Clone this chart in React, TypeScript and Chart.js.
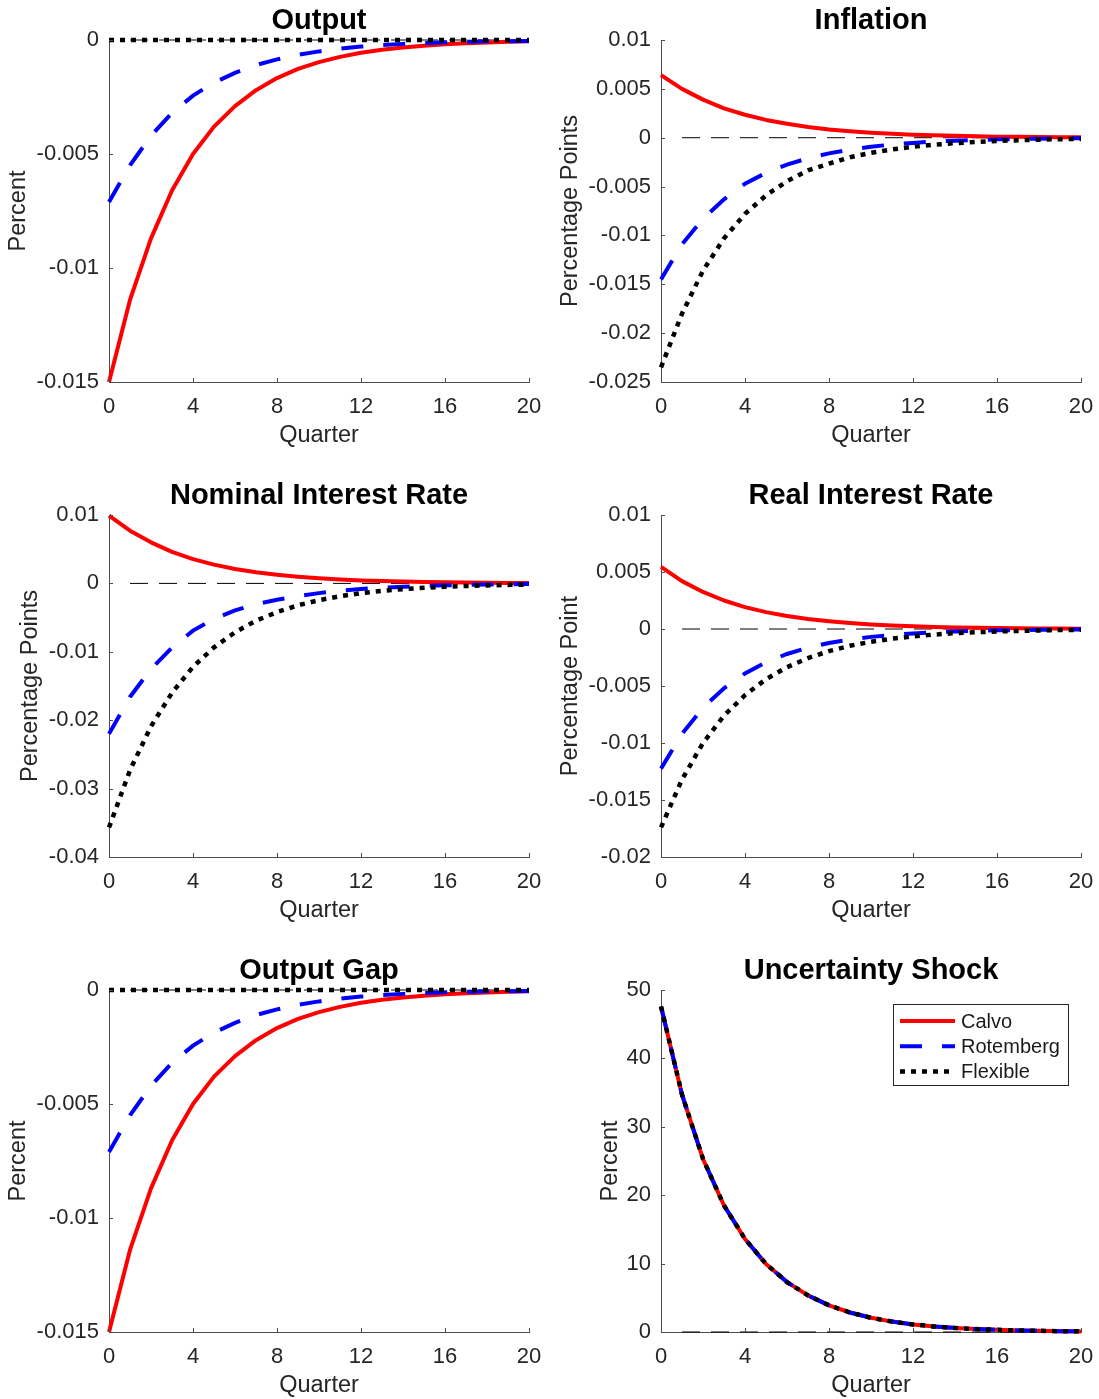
import React, { useEffect, useRef } from "react";
import { Chart, registerables } from "chart.js";

Chart.register(...registerables);
Chart.defaults.font.family = "'Liberation Sans', Arial, Helvetica, sans-serif";

// ---------------- data ----------------
const quarters = [0, 1, 2, 3, 4, 5, 6, 7, 8, 9, 10, 11, 12, 13, 14, 15, 16, 17, 18, 19, 20];
const zeroQuarters = [1, 2, 3, 4, 5, 6, 7, 8, 9, 10, 11, 12, 13, 14, 15, 16, 17, 18, 19, 20];
const xTicks = [0, 4, 8, 12, 16, 20];

const outputTicks = [-0.015, -0.01, -0.005, 0];
const inflationTicks = [-0.025, -0.02, -0.015, -0.01, -0.005, 0, 0.005, 0.01];
const nominalTicks = [-0.04, -0.03, -0.02, -0.01, 0, 0.01];
const realTicks = [-0.02, -0.015, -0.01, -0.005, 0, 0.005, 0.01];
const gapTicks = [-0.015, -0.01, -0.005, 0];
const shockTicks = [0, 10, 20, 30, 40, 50];

const calvoOutput = [-0.015, -0.0114, -0.0087, -0.0066, -0.005, -0.0038, -0.0029, -0.0022, -0.00167, -0.00127, -0.00097, -0.00074, -0.00056, -0.00043, -0.00033, -0.00025, -0.00019, -0.00014, -0.00011, -0.00008, -0.00006];
const rotembergOutput = [-0.0071, -0.0055, -0.0042, -0.0032, -0.00244, -0.00187, -0.00144, -0.0011, -0.00085, -0.00065, -0.0005, -0.00038, -0.00029, -0.00022, -0.00017, -0.00013, -0.0001, -0.00008, -0.00006, -0.00005, -0.00004];
const flexibleOutput = [0, 0, 0, 0, 0, 0, 0, 0, 0, 0, 0, 0, 0, 0, 0, 0, 0, 0, 0, 0, 0];

const calvoInflation = [0.0064, 0.005, 0.0039, 0.003, 0.00235, 0.00182, 0.00142, 0.0011, 0.00085, 0.00066, 0.00051, 0.0004, 0.00031, 0.00024, 0.00019, 0.00015, 0.00011, 0.00009, 0.00007, 0.00005, 0.00004];
const rotembergInflation = [-0.0145, -0.0109, -0.0083, -0.0063, -0.0047, -0.0036, -0.00275, -0.0021, -0.0016, -0.00122, -0.00092, -0.0007, -0.00053, -0.0004, -0.0003, -0.00023, -0.00017, -0.00013, -0.0001, -0.00007, -0.00005];
const flexibleInflation = [-0.0235, -0.018, -0.0136, -0.0103, -0.0078, -0.0059, -0.00445, -0.00335, -0.00265, -0.002, -0.00155, -0.0012, -0.00093, -0.00072, -0.00056, -0.00043, -0.00033, -0.00026, -0.0002, -0.00015, -0.00012];

const calvoNominal = [0.0099, 0.0077, 0.006, 0.0046, 0.00355, 0.00275, 0.0021, 0.00162, 0.00125, 0.00097, 0.00074, 0.00057, 0.00044, 0.00034, 0.00026, 0.0002, 0.000155, 0.00012, 0.00009, 0.00007, 0.000055];
const rotembergNominal = [-0.022, -0.0166, -0.0125, -0.0094, -0.0069, -0.0052, -0.00395, -0.00305, -0.0024, -0.00185, -0.00142, -0.00108, -0.00082, -0.00063, -0.00048, -0.00037, -0.00028, -0.00021, -0.00016, -0.00012, -0.00009];
const flexibleNominal = [-0.0357, -0.0273, -0.0209, -0.016, -0.0122, -0.00935, -0.00715, -0.00545, -0.0042, -0.0032, -0.00245, -0.00188, -0.00143, -0.0011, -0.00084, -0.00064, -0.00049, -0.00038, -0.00029, -0.00022, -0.00017];

const calvoReal = [0.00545, 0.0042, 0.00325, 0.0025, 0.00192, 0.00148, 0.00114, 0.00088, 0.00068, 0.00052, 0.0004, 0.00031, 0.00024, 0.00018, 0.00014, 0.00011, 0.000085, 0.000065, 0.00005, 0.00004, 0.00003];
const rotembergReal = [-0.01225, -0.0092, -0.0069, -0.0052, -0.0039, -0.00292, -0.00219, -0.00164, -0.00123, -0.00092, -0.00069, -0.00052, -0.00039, -0.00029, -0.00022, -0.000165, -0.00012, -0.00009, -0.00007, -0.00005, -0.00004];
const flexibleReal = [-0.0174, -0.0132, -0.01, -0.0076, -0.0058, -0.0044, -0.00335, -0.00255, -0.00194, -0.00147, -0.00112, -0.00085, -0.00065, -0.00049, -0.00037, -0.00028, -0.00022, -0.000165, -0.000125, -0.000095, -0.00007];

const calvoGap = [-0.015, -0.0114, -0.0087, -0.0066, -0.005, -0.0038, -0.0029, -0.0022, -0.00167, -0.00127, -0.00097, -0.00074, -0.00056, -0.00043, -0.00033, -0.00025, -0.00019, -0.00014, -0.00011, -0.00008, -0.00006];
const rotembergGap = [-0.0071, -0.0055, -0.0042, -0.0032, -0.00244, -0.00187, -0.00144, -0.0011, -0.00085, -0.00065, -0.0005, -0.00038, -0.00029, -0.00022, -0.00017, -0.00013, -0.0001, -0.00008, -0.00006, -0.00005, -0.00004];
const flexibleGap = [0, 0, 0, 0, 0, 0, 0, 0, 0, 0, 0, 0, 0, 0, 0, 0, 0, 0, 0, 0, 0];

const calvoShock = [47.6, 34.7, 25.3, 18.5, 13.6, 9.95, 7.3, 5.35, 3.9, 2.85, 2.08, 1.52, 1.11, 0.81, 0.59, 0.43, 0.32, 0.23, 0.17, 0.12, 0.09];
const rotembergShock = [47.6, 34.7, 25.3, 18.5, 13.6, 9.95, 7.3, 5.35, 3.9, 2.85, 2.08, 1.52, 1.11, 0.81, 0.59, 0.43, 0.32, 0.23, 0.17, 0.12, 0.09];
const flexibleShock = [47.6, 34.7, 25.3, 18.5, 13.6, 9.95, 7.3, 5.35, 3.9, 2.85, 2.08, 1.52, 1.11, 0.81, 0.59, 0.43, 0.32, 0.23, 0.17, 0.12, 0.09];

const seriesNames = ["Calvo", "Rotemberg", "Flexible"];

// ---------------- layout / style ----------------
const COL_LEFT = [109, 661];
const ROW_TOP = [40, 515, 990];
const PLOT_W = 420;
const PLOT_H = 342;
const Y_AXIS_W = 105;
const X_AXIS_H = 66;
const TITLE_SPACE = 40;
const RIGHT_PAD = 18;
const AXIS_COLOR = "#4d4d4d";
const TEXT_COLOR = "#262626";
const LABEL_SIZE = 23.5;

type PanelDef = {
  title: string;
  yLabel: string;
  yTicks: number[];
  calvo: number[];
  rot: number[];
  flex: number[];
  col: number;
  row: number;
  yTitleOffset: number;
  legend: boolean;
};

const panels: PanelDef[] = [
  { title: "Output", yLabel: "Percent", yTicks: outputTicks, calvo: calvoOutput, rot: rotembergOutput, flex: flexibleOutput, col: 0, row: 0, yTitleOffset: 91, legend: false },
  { title: "Inflation", yLabel: "Percentage Points", yTicks: inflationTicks, calvo: calvoInflation, rot: rotembergInflation, flex: flexibleInflation, col: 1, row: 0, yTitleOffset: 90, legend: false },
  { title: "Nominal Interest Rate", yLabel: "Percentage Points", yTicks: nominalTicks, calvo: calvoNominal, rot: rotembergNominal, flex: flexibleNominal, col: 0, row: 1, yTitleOffset: 78, legend: false },
  { title: "Real Interest Rate", yLabel: "Percentage Point", yTicks: realTicks, calvo: calvoReal, rot: rotembergReal, flex: flexibleReal, col: 1, row: 1, yTitleOffset: 90, legend: false },
  { title: "Output Gap", yLabel: "Percent", yTicks: gapTicks, calvo: calvoGap, rot: rotembergGap, flex: flexibleGap, col: 0, row: 2, yTitleOffset: 91, legend: false },
  { title: "Uncertainty Shock", yLabel: "Percent", yTicks: shockTicks, calvo: calvoShock, rot: rotembergShock, flex: flexibleShock, col: 1, row: 2, yTitleOffset: 50.5, legend: true },
];

const fmt = (v: number) => String(Math.round(v * 1e6) / 1e6);

const innerTicksPlugin = {
  id: "innerTicks",
  afterDraw(chart: any) {
    const { ctx, chartArea } = chart;
    const xs = chart.scales.x;
    const ys = chart.scales.y;
    ctx.save();
    ctx.strokeStyle = AXIS_COLOR;
    ctx.lineWidth = 1;
    ctx.beginPath();
    xs.ticks.forEach((t: any) => {
      const px = Math.round(xs.getPixelForValue(t.value)) + 0.5;
      ctx.moveTo(px, chartArea.bottom);
      ctx.lineTo(px, chartArea.bottom - 4);
    });
    ys.ticks.forEach((t: any) => {
      const py = Math.round(ys.getPixelForValue(t.value)) + 0.5;
      ctx.moveTo(chartArea.left, py);
      ctx.lineTo(chartArea.left + 4, py);
    });
    ctx.stroke();
    ctx.restore();
  },
};

const boxLegendPlugin = {
  id: "boxLegend",
  afterDraw(chart: any, _args: any, opts: any) {
    if (!opts || !opts.show) return;
    const { ctx, chartArea } = chart;
    const bx = chartArea.left + 232;
    const by = chartArea.top + 14;
    const bw = 175;
    const bh = 81;
    ctx.save();
    ctx.fillStyle = "#ffffff";
    ctx.fillRect(bx, by, bw, bh);
    ctx.strokeStyle = TEXT_COLOR;
    ctx.lineWidth = 1;
    ctx.strokeRect(Math.round(bx) + 0.5, Math.round(by) + 0.5, bw, bh);
    const items = seriesNames
      .map((n) => chart.data.datasets.find((d: any) => d.label === n))
      .filter(Boolean);
    items.forEach((ds: any, i: number) => {
      const y = by + 17 + i * 25.3;
      ctx.beginPath();
      ctx.strokeStyle = ds.borderColor;
      ctx.lineWidth = ds.borderWidth;
      ctx.setLineDash(ds.borderDash || []);
      ctx.moveTo(bx + 7, y);
      ctx.lineTo(bx + 62, y);
      ctx.stroke();
      ctx.setLineDash([]);
      ctx.fillStyle = "#1a1a1a";
      ctx.font = "20px 'Liberation Sans', Arial, Helvetica, sans-serif";
      ctx.textBaseline = "middle";
      ctx.textAlign = "left";
      ctx.fillText(ds.label, bx + 68, y + 1);
    });
    ctx.restore();
  },
};

function Panel({ def }: { def: PanelDef }) {
  const ref = useRef<HTMLCanvasElement | null>(null);
  useEffect(() => {
    if (!ref.current) return;
    const pts = (vals: number[]) => quarters.map((q, i) => ({ x: q, y: vals[i] }));
    const yMin = Math.min(...def.yTicks);
    const yMax = Math.max(...def.yTicks);
    const chart = new Chart(ref.current, {
      type: "line",
      data: {
        datasets: [
          { label: "Flexible", data: pts(def.flex), borderColor: "#000000", borderWidth: 4.5, borderDash: [5, 6], order: 0, pointRadius: 0, clip: false, fill: false, tension: 0 } as any,
          { label: "Rotemberg", data: pts(def.rot), borderColor: "#0000ff", borderWidth: 4, borderDash: [22, 20], order: 1, pointRadius: 0, clip: false, fill: false, tension: 0 } as any,
          { label: "Calvo", data: pts(def.calvo), borderColor: "#ff0000", borderWidth: 4, order: 2, pointRadius: 0, clip: false, fill: false, tension: 0, borderJoinStyle: "round" } as any,
          { label: "zero", data: zeroQuarters.map((q) => ({ x: q, y: 0 })), borderColor: "#000000", borderWidth: 1, borderDash: [18, 11], order: 3, pointRadius: 0, clip: false, fill: false } as any,
        ],
      },
      options: {
        responsive: false,
        animation: false,
        events: [],
        layout: { padding: { left: 0, right: RIGHT_PAD, top: 0, bottom: 0 } },
        plugins: {
          legend: { display: false },
          tooltip: { enabled: false },
          title: {
            display: true,
            text: def.title,
            fullSize: false,
            color: "#000000",
            font: { size: 29, weight: "bold" },
            padding: { top: 3.6, bottom: 1.6 },
          },
          boxLegend: { show: def.legend },
        } as any,
        scales: {
          x: {
            type: "linear",
            min: 0,
            max: 20,
            grid: { display: false, drawTicks: false },
            border: { display: true, color: AXIS_COLOR, width: 1 },
            ticks: { font: { size: 22 }, color: TEXT_COLOR, padding: 12, autoSkip: false, maxRotation: 0, callback: (v: any) => fmt(Number(v)) },
            afterBuildTicks: (axis: any) => {
              axis.ticks = xTicks.map((v) => ({ value: v }));
            },
            afterFit: (s: any) => {
              s.height = X_AXIS_H;
              s.paddingLeft = 0;
              s.paddingRight = 0;
            },
            title: { display: true, text: "Quarter", color: TEXT_COLOR, font: { size: LABEL_SIZE }, padding: { top: 0, bottom: -1.5 } },
          },
          y: {
            type: "linear",
            min: yMin,
            max: yMax,
            grid: { display: false, drawTicks: false },
            border: { display: true, color: AXIS_COLOR, width: 1 },
            ticks: { font: { size: 22 }, color: TEXT_COLOR, padding: 10, autoSkip: false, callback: (v: any) => fmt(Number(v)) },
            afterBuildTicks: (axis: any) => {
              axis.ticks = def.yTicks.map((v) => ({ value: v }));
            },
            afterFit: (s: any) => {
              s.width = Y_AXIS_W;
              s.paddingTop = 0;
              s.paddingBottom = 0;
            },
            title: {
              display: true,
              text: def.yLabel,
              color: TEXT_COLOR,
              font: { size: LABEL_SIZE },
              padding: { top: Math.max(0, Y_AXIS_W - def.yTitleOffset - (LABEL_SIZE * 1.2) / 2), bottom: 0 },
            },
          },
        },
      } as any,
      plugins: [innerTicksPlugin, boxLegendPlugin],
    });
    return () => chart.destroy();
  }, [def]);

  const left = COL_LEFT[def.col] - Y_AXIS_W;
  const top = ROW_TOP[def.row] - TITLE_SPACE;
  const width = Y_AXIS_W + PLOT_W + RIGHT_PAD;
  const height = TITLE_SPACE + PLOT_H + X_AXIS_H;
  return (
    <canvas
      ref={ref}
      width={width}
      height={height}
      style={{ position: "absolute", left, top, width, height }}
    />
  );
}

export default function App() {
  return (
    <div style={{ position: "absolute", left: 0, top: 0, width: 1099, height: 1399, overflow: "hidden", background: "#ffffff" }}>
      {panels.map((p) => (
        <Panel key={p.title} def={p} />
      ))}
    </div>
  );
}
